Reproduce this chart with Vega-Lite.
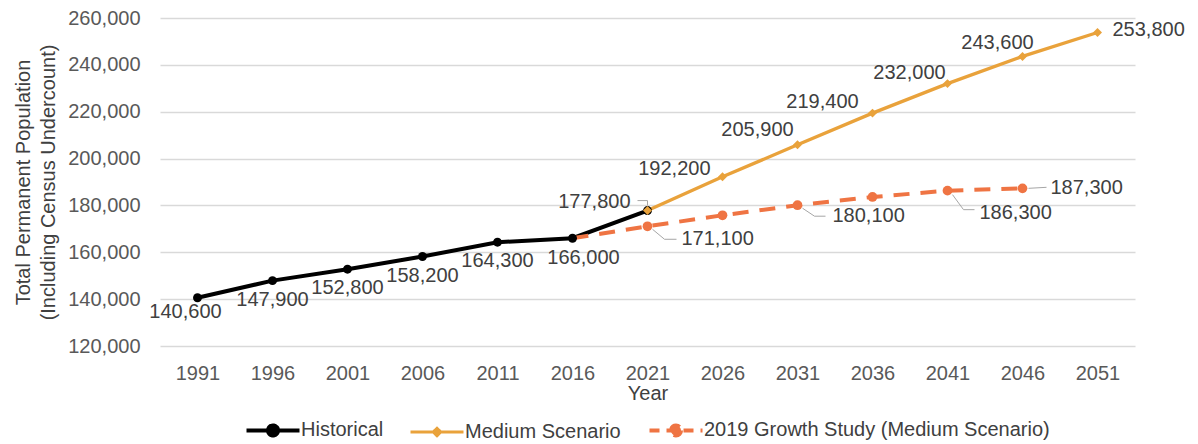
{
  "$schema": "https://vega.github.io/schema/vega-lite/v6.json",
  "width": 975,
  "height": 328,
  "autosize": {"type": "none"},
  "padding": {"left": 160, "top": 18, "right": 63, "bottom": 98},
  "config": {
    "view": {"stroke": null},
    "font": "Liberation Sans",
    "text": {"fontSize": 20, "fill": "#404040", "font": "Liberation Sans", "baseline": "middle"},
    "rule": {"stroke": "#A6A6A6", "strokeWidth": 1}
  },
  "data": {
    "values": [
      {"series": "Historical", "year": 1991, "value": 140600},
      {"series": "Historical", "year": 1996, "value": 147900},
      {"series": "Historical", "year": 2001, "value": 152800},
      {"series": "Historical", "year": 2006, "value": 158200},
      {"series": "Historical", "year": 2011, "value": 164300},
      {"series": "Historical", "year": 2016, "value": 166000},
      {"series": "Historical", "year": 2021, "value": 177800},
      {"series": "Medium Scenario", "year": 2021, "value": 177800},
      {"series": "Medium Scenario", "year": 2026, "value": 192200},
      {"series": "Medium Scenario", "year": 2031, "value": 205900},
      {"series": "Medium Scenario", "year": 2036, "value": 219400},
      {"series": "Medium Scenario", "year": 2041, "value": 232000},
      {"series": "Medium Scenario", "year": 2046, "value": 243600},
      {"series": "Medium Scenario", "year": 2051, "value": 253800},
      {"series": "2019 Growth Study (Medium Scenario)", "year": 2016, "value": 166000},
      {"series": "2019 Growth Study (Medium Scenario)", "year": 2021, "value": 171100},
      {"series": "2019 Growth Study (Medium Scenario)", "year": 2026, "value": 175800},
      {"series": "2019 Growth Study (Medium Scenario)", "year": 2031, "value": 180100},
      {"series": "2019 Growth Study (Medium Scenario)", "year": 2036, "value": 183600},
      {"series": "2019 Growth Study (Medium Scenario)", "year": 2041, "value": 186300},
      {"series": "2019 Growth Study (Medium Scenario)", "year": 2046, "value": 187300}
    ]
  },
  "encoding": {
    "x": {
      "field": "year", "type": "quantitative",
      "scale": {"domain": [1988.5, 2053.5], "nice": false, "zero": false},
      "axis": {
        "title": "Year", "values": [1991, 1996, 2001, 2006, 2011, 2016, 2021, 2026, 2031, 2036, 2041, 2046, 2051],
        "format": "d", "grid": false, "domain": false, "ticks": false, "tickSize": 0,
        "labelFontSize": 20, "labelColor": "#595959", "labelFont": "Liberation Sans", "labelPadding": 17,
        "titleFontSize": 20, "titleFontWeight": "normal", "titleColor": "#404040", "titleFont": "Liberation Sans", "titlePadding": 0
      }
    },
    "y": {
      "field": "value", "type": "quantitative",
      "scale": {"domain": [120000, 260000], "nice": false, "zero": false},
      "axis": {
        "title": ["Total Permanent Population", "(Including Census Undercount)"],
        "values": [120000, 140000, 160000, 180000, 200000, 220000, 240000, 260000],
        "format": ",d", "grid": true, "gridColor": "#D9D9D9", "gridWidth": 1.5, "domain": false, "ticks": false, "tickSize": 0,
        "labelFontSize": 20, "labelColor": "#595959", "labelFont": "Liberation Sans", "labelPadding": 20,
        "titleFontSize": 20, "titleFontWeight": "normal", "titleColor": "#404040", "titleFont": "Liberation Sans", "titlePadding": 9, "titleLineHeight": 25
      }
    }
  },
  "layer": [
    {
      "encoding": {
        "color": {
          "field": "series", "type": "nominal",
          "scale": {"domain": ["Historical", "Medium Scenario", "2019 Growth Study (Medium Scenario)"], "range": ["#000000", "#E9A23B", "#EF7443"]},
          "legend": {
            "title": null, "orient": "none", "legendX": 103, "legendY": 402, "direction": "horizontal", "columns": 3,
            "padding": 0, "columnPadding": 20, "labelOffset": 18, "labelLimit": 600,
            "labelFontSize": 20, "labelColor": "#404040", "labelFont": "Liberation Sans",
            "symbolSize": 2809, "symbolStrokeWidth": 4,
            "symbolType": "M-1,0H1M0.19,0A0.19,0.19,0,1,1,-0.19,0A0.19,0.19,0,1,1,0.19,0Z",
            "encode": {
              "symbols": {
                "update": {
                  "fill": {"scale": "color", "field": "value"},
                  "stroke": {"scale": "color", "field": "value"},
                  "shape": {"signal": "datum.value === 'Medium Scenario' ? 'M-1,0H1M0,-0.14L0.14,0L0,0.14L-0.14,0Z' : 'M-1,0H1M0.19,0A0.19,0.19,0,1,1,-0.19,0A0.19,0.19,0,1,1,0.19,0Z'"},
                  "strokeDash": {"signal": "datum.value === 'Historical' || datum.value === 'Medium Scenario' ? [1,0] : [10,7]"},
                  "strokeWidth": {"signal": "datum.value === 'Medium Scenario' ? 3 : 4"}
                }
              }
            }
          }
        }
      },
      "layer": [
        {"transform": [{"filter": "datum.series === 'Historical'"}], "mark": {"type": "line", "strokeWidth": 4}},
        {"transform": [{"filter": "datum.series === 'Medium Scenario'"}], "mark": {"type": "line", "strokeWidth": 3.3}},
        {"transform": [{"filter": "datum.series === '2019 Growth Study (Medium Scenario)'"}], "mark": {"type": "line", "strokeWidth": 4, "strokeDash": [16, 11]}}
      ]
    },
    {"transform": [{"filter": "datum.series === 'Historical'"}], "mark": {"type": "point", "filled": true, "opacity": 1, "shape": "circle", "size": 80, "fill": "#000000"}},
    {"transform": [{"filter": "datum.series === 'Medium Scenario'"}], "mark": {"type": "point", "filled": true, "opacity": 1, "shape": "diamond", "size": 80, "fill": "#E9A23B"}},
    {"transform": [{"filter": "datum.series === '2019 Growth Study (Medium Scenario)' && datum.year > 2016"}], "mark": {"type": "point", "filled": true, "opacity": 1, "shape": "circle", "size": 95, "fill": "#EF7443"}},
    {
      "encoding": {"x2": {"field": "year"}, "y2": {"field": "value"}},
      "layer": [
        {"transform": [{"filter": "datum.series === 'Historical' && datum.year === 2021"}], "mark": {"type": "rule", "xOffset": -10, "yOffset": -10, "x2Offset": 0, "y2Offset": -10}},
        {"transform": [{"filter": "datum.series === 'Historical' && datum.year === 2021"}], "mark": {"type": "rule", "xOffset": 0, "yOffset": -10, "x2Offset": 0, "y2Offset": -5}},
        {"transform": [{"filter": "datum.series === '2019 Growth Study (Medium Scenario)' && datum.year === 2021"}], "mark": {"type": "rule", "xOffset": 5, "yOffset": 3, "x2Offset": 17, "y2Offset": 13}},
        {"transform": [{"filter": "datum.series === '2019 Growth Study (Medium Scenario)' && datum.year === 2021"}], "mark": {"type": "rule", "xOffset": 17, "yOffset": 13, "x2Offset": 29, "y2Offset": 13}},
        {"transform": [{"filter": "datum.series === '2019 Growth Study (Medium Scenario)' && datum.year === 2031"}], "mark": {"type": "rule", "xOffset": 5, "yOffset": 3, "x2Offset": 17, "y2Offset": 11}},
        {"transform": [{"filter": "datum.series === '2019 Growth Study (Medium Scenario)' && datum.year === 2031"}], "mark": {"type": "rule", "xOffset": 17, "yOffset": 11, "x2Offset": 28, "y2Offset": 11}},
        {"transform": [{"filter": "datum.series === '2019 Growth Study (Medium Scenario)' && datum.year === 2041"}], "mark": {"type": "rule", "xOffset": 5, "yOffset": 4, "x2Offset": 16, "y2Offset": 19}},
        {"transform": [{"filter": "datum.series === '2019 Growth Study (Medium Scenario)' && datum.year === 2041"}], "mark": {"type": "rule", "xOffset": 16, "yOffset": 19, "x2Offset": 27, "y2Offset": 19}},
        {"transform": [{"filter": "datum.series === '2019 Growth Study (Medium Scenario)' && datum.year === 2046"}], "mark": {"type": "rule", "xOffset": 6, "yOffset": 0, "x2Offset": 24, "y2Offset": -1}}
      ]
    },
    {
      "encoding": {"text": {"field": "value", "type": "quantitative", "format": ",d"}},
      "layer": [
        {"transform": [{"filter": "datum.series === 'Historical' && datum.year === 1991"}], "mark": {"type": "text", "align": "center", "dx": -12, "dy": 14}},
        {"transform": [{"filter": "datum.series === 'Historical' && datum.year >= 1996 && datum.year <= 2011"}], "mark": {"type": "text", "align": "center", "dx": 0, "dy": 19}},
        {"transform": [{"filter": "datum.series === 'Historical' && datum.year === 2016"}], "mark": {"type": "text", "align": "center", "dx": 11, "dy": 20}},
        {"transform": [{"filter": "datum.series === 'Historical' && datum.year === 2021"}], "mark": {"type": "text", "align": "right", "dx": -17, "dy": -9}},
        {"transform": [{"filter": "datum.series === 'Medium Scenario' && datum.year === 2026"}], "mark": {"type": "text", "align": "right", "dx": -12, "dy": -8}},
        {"transform": [{"filter": "datum.series === 'Medium Scenario' && datum.year === 2031"}], "mark": {"type": "text", "align": "center", "dx": -40, "dy": -15}},
        {"transform": [{"filter": "datum.series === 'Medium Scenario' && datum.year === 2036"}], "mark": {"type": "text", "align": "center", "dx": -50, "dy": -11}},
        {"transform": [{"filter": "datum.series === 'Medium Scenario' && datum.year === 2041"}], "mark": {"type": "text", "align": "center", "dx": -38, "dy": -11}},
        {"transform": [{"filter": "datum.series === 'Medium Scenario' && datum.year === 2046"}], "mark": {"type": "text", "align": "center", "dx": -25, "dy": -13}},
        {"transform": [{"filter": "datum.series === 'Medium Scenario' && datum.year === 2051"}], "mark": {"type": "text", "align": "left", "dx": 15, "dy": -3}},
        {"transform": [{"filter": "datum.series === '2019 Growth Study (Medium Scenario)' && datum.year === 2021"}], "mark": {"type": "text", "align": "left", "dx": 34, "dy": 13}},
        {"transform": [{"filter": "datum.series === '2019 Growth Study (Medium Scenario)' && datum.year === 2031"}], "mark": {"type": "text", "align": "left", "dx": 35, "dy": 11}},
        {"transform": [{"filter": "datum.series === '2019 Growth Study (Medium Scenario)' && datum.year === 2041"}], "mark": {"type": "text", "align": "left", "dx": 32, "dy": 22}},
        {"transform": [{"filter": "datum.series === '2019 Growth Study (Medium Scenario)' && datum.year === 2046"}], "mark": {"type": "text", "align": "left", "dx": 28, "dy": 0}}
      ]
    }
  ]
}
